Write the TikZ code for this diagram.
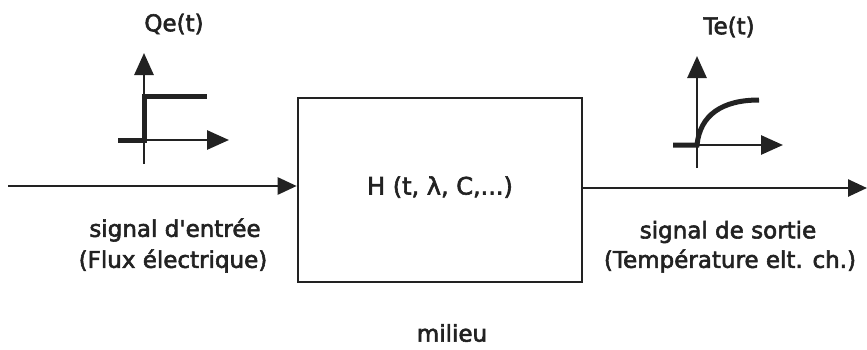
\documentclass[tikz,border=0pt]{standalone}
\usepackage{fontspec}
\setmainfont{DejaVu Sans}
\newfontfamily\lblfont[FakeBold=2.5]{DejaVu Sans}
\usetikzlibrary{arrows.meta}
\definecolor{ink}{RGB}{34,34,34}
\tikzset{
  lbl/.style={font=\lblfont\fontsize{23}{25}\selectfont, text=ink, inner sep=0pt},
  biglbl/.style={font=\lblfont\fontsize{24}{26}\selectfont, text=ink, inner sep=0pt},
  sysbox/.style={draw=ink, line width=2.6pt, minimum width=284pt, minimum height=184pt, inner sep=0pt},
  flow/.style={draw=ink, line width=2.6pt, -{Triangle[length=19pt,width=17pt]}},
  axis/.style={draw=ink, line width=2.8pt, -{Triangle[length=22pt,width=19pt]}},
  sig/.style={draw=ink, line width=5pt}
}
\begin{document}
\begin{tikzpicture}[x=1pt,y=-1pt]
\useasboundingbox (0,0) rectangle (867,349);
% system box
\node[sysbox] (box) at (440,190) {};
\node[biglbl] (h) at (440,187) {H (t, λ, C,...)};
% flows
\coordinate (inS) at (8,186);
\coordinate (outE) at (867,188);
\draw[flow] (inS) -- (inS -| box.west);
\draw[flow] (box.east |- outE) -- (outE);
% input graph
\coordinate (o1) at (144,140);
\coordinate (o1y0) at (144,164);
\coordinate (o1y1) at (144,53);
\coordinate (o1x0) at (118,140);
\coordinate (o1x1) at (229,140);
\draw[axis] (o1y0) -- (o1y1);
\draw[axis] (o1x0) -- (o1x1);
\draw[sig] (o1x0) -- (o1) -- (144,96) -- (207,96);
\node[lbl] (qe) at (174,24) {Qe(t)};
% output graph
\coordinate (o2) at (697,145);
\coordinate (o2y0) at (697,168);
\coordinate (o2y1) at (697,56);
\coordinate (o2x0) at (673,145);
\coordinate (o2x1) at (783,145);
\draw[axis] (o2y0) -- (o2y1);
\draw[axis] (o2x0) -- (o2x1);
\draw[sig] (o2x0) -- (o2) .. controls (700,115) and (722,100) .. (759,100);
\node[lbl] (te) at (729,27) {Te(t)};
% labels
\node[lbl] (in1) at (175,230) {signal d'entrée};
\node[lbl] (in2) at (173,261) {(Flux électrique)};
\node[lbl] (out1) at (728,232) {signal de sortie};
\node[lbl] (out2) at (730,261) {(Température elt. ch.)};
\node[lbl] (mil) at (452,333) {milieu};
\end{tikzpicture}
\end{document}
